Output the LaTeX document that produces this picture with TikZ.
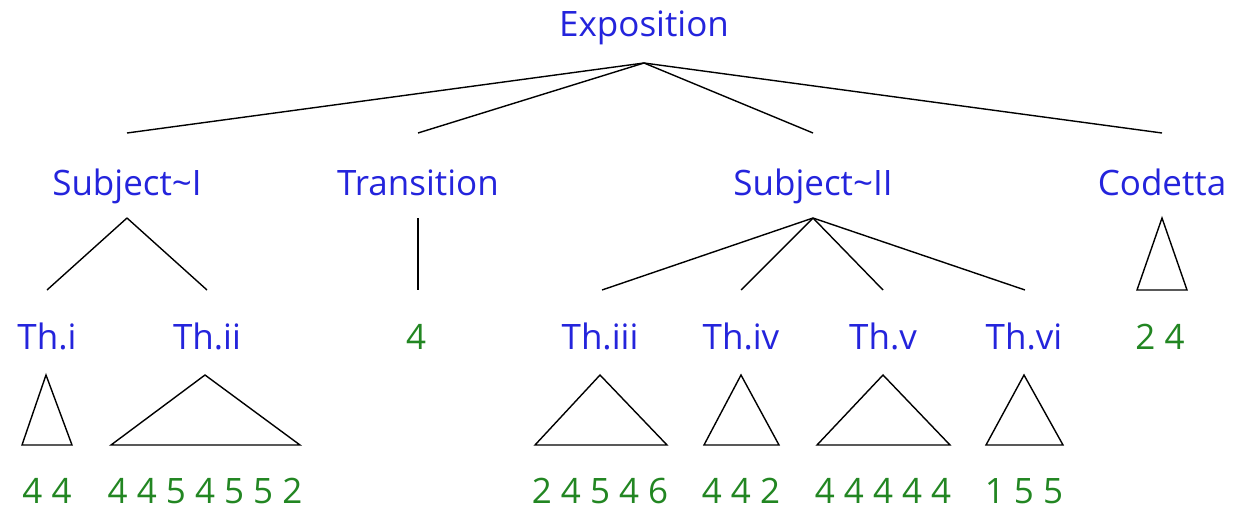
\documentclass[tikz,border=0pt]{standalone}
\usepackage{fontspec}
\setmainfont{Open Sans}
\definecolor{labblue}{RGB}{36,36,220}
\definecolor{numgreen}{RGB}{34,134,34}
\begin{document}
\begin{tikzpicture}[x=1pt,y=-1pt,
  every node/.style={inner sep=0pt, font=\fontsize{35}{42}\selectfont},
  lab/.style={text=labblue, anchor=base},
  num/.style={text=numgreen, anchor=base},
  branch/.style={draw=black, line width=1.4pt},
  tri/.style={draw=black, line width=1.4pt, line join=miter}]
\useasboundingbox (0,0) rectangle (1238,508);

% labels
\node[lab] (expo) at (644,37) {Exposition};
\node[lab] (subjI) at (127,195) {Subject\textasciitilde I};
\node[lab] (trans) at (418,195) {Transition};
\node[lab] (subjII) at (813,195) {Subject\textasciitilde II};
\node[lab] (coda) at (1162,195) {Codetta};

\node[lab] (thi) at (47,349) {Th.i};
\node[lab] (thii) at (207,349) {Th.ii};
\node[num] (trn) at (416,349) {4};
\node[lab] (thiii) at (600,349) {Th.iii};
\node[lab] (thiv) at (741,349) {Th.iv};
\node[lab] (thv) at (883,349) {Th.v};
\node[lab] (thvi) at (1024,349) {Th.vi};
\node[num] (codn) at (1160,349) {2 4};

\node[num] (ni) at (47,503) {4 4};
\node[num] (nii) at (205,503) {4 4 5 4 5 5 2};
\node[num] (niii) at (600,503) {2 4 5 4 6};
\node[num] (niv) at (741,503) {4 4 2};
\node[num] (nv) at (883,503) {4 4 4 4 4};
\node[num] (nvi) at (1024,503) {1 5 5};

% branch ends
\coordinate (expo-b) at (644,63);
\coordinate (subjI-t) at (127,133);
\coordinate (trans-t) at (418,133);
\coordinate (subjII-t) at (813,133);
\coordinate (coda-t) at (1162,133);
\coordinate (subjI-b) at (127,218);
\coordinate (trans-b) at (418,218);
\coordinate (subjII-b) at (813,218);
\coordinate (thi-t) at (47,290);
\coordinate (thii-t) at (207,290);
\coordinate (trn-t) at (418,290);
\coordinate (thiii-t) at (602,290);
\coordinate (thiv-t) at (741,290);
\coordinate (thv-t) at (883,290);
\coordinate (thvi-t) at (1025,290);

\draw[branch] (expo-b) -- (subjI-t);
\draw[branch] (expo-b) -- (trans-t);
\draw[branch] (expo-b) -- (subjII-t);
\draw[branch] (expo-b) -- (coda-t);
\draw[branch] (subjI-b) -- (thi-t);
\draw[branch] (subjI-b) -- (thii-t);
\draw[branch] (trans-b) -- (trn-t);
\draw[branch] (subjII-b) -- (thiii-t);
\draw[branch] (subjII-b) -- (thiv-t);
\draw[branch] (subjII-b) -- (thv-t);
\draw[branch] (subjII-b) -- (thvi-t);

% collapsed subtrees
\draw[tri] (1162,218) -- (1187,290) -- (1137,290) -- cycle;
\draw[tri] (46,375) -- (72,445) -- (22,445) -- cycle;
\draw[tri] (205,375) -- (300,445) -- (111,445) -- cycle;
\draw[tri] (600,375) -- (667,445) -- (535,445) -- cycle;
\draw[tri] (741,375) -- (779,445) -- (704,445) -- cycle;
\draw[tri] (883,375) -- (950,445) -- (817,445) -- cycle;
\draw[tri] (1024,375) -- (1063,445) -- (986,445) -- cycle;
\end{tikzpicture}
\end{document}
